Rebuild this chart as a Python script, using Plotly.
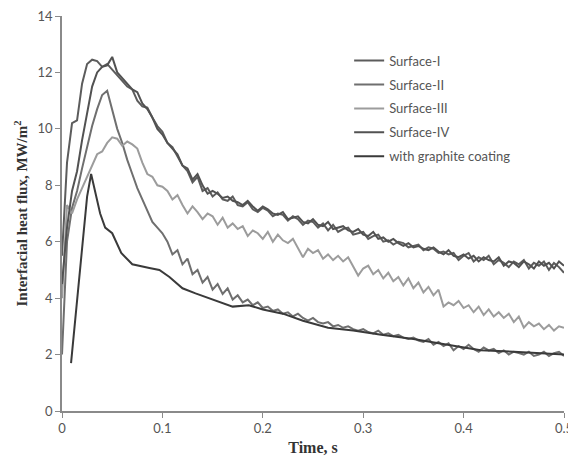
import plotly.graph_objects as go

# ---------------------------------------------------------------
# Data (time in s, flux in MW/m^2)
# ---------------------------------------------------------------
time_s = [
    0.000, 0.005, 0.010, 0.015, 0.020, 0.025, 0.030, 0.035, 0.040, 0.045,
    0.050, 0.055, 0.060, 0.065, 0.070, 0.075, 0.080, 0.085, 0.090, 0.095,
    0.100, 0.105, 0.110, 0.115, 0.120, 0.125, 0.130, 0.135, 0.140, 0.145,
    0.150, 0.155, 0.160, 0.165, 0.170, 0.175, 0.180, 0.185, 0.190, 0.195,
    0.200, 0.205, 0.210, 0.215, 0.220, 0.225, 0.230, 0.235, 0.240, 0.245,
    0.250, 0.255, 0.260, 0.265, 0.270, 0.275, 0.280, 0.285, 0.290, 0.295,
    0.300, 0.305, 0.310, 0.315, 0.320, 0.325, 0.330, 0.335, 0.340, 0.345,
    0.350, 0.355, 0.360, 0.365, 0.370, 0.375, 0.380, 0.385, 0.390, 0.395,
    0.400, 0.405, 0.410, 0.415, 0.420, 0.425, 0.430, 0.435, 0.440, 0.445,
    0.450, 0.455, 0.460, 0.465, 0.470, 0.475, 0.480, 0.485, 0.490, 0.495,
    0.500,
]

surface_1 = [
    5.5, 8.8, 10.2, 10.3, 11.6, 12.3, 12.45, 12.4, 12.2, 12.3,
    12.1, 11.9, 11.7, 11.5, 11.4, 11.0, 10.8, 10.75, 10.4, 10.1,
    9.9, 9.5, 9.35, 9.0, 8.7, 8.5, 8.1, 8.3, 7.8, 7.9,
    7.6, 7.75, 7.5, 7.45, 7.6, 7.3, 7.25, 7.4, 7.15, 7.05,
    7.2, 7.1, 6.9, 7.0, 6.95, 6.75, 6.9, 6.8, 6.6, 6.75,
    6.7, 6.5, 6.65, 6.4, 6.6, 6.35, 6.45, 6.5, 6.25, 6.3,
    6.35, 6.1, 6.2, 6.25, 6.0, 6.05, 5.9, 6.0, 5.95, 5.8,
    5.85, 5.9, 5.7, 5.8, 5.75, 5.6, 5.65, 5.55, 5.6, 5.35,
    5.5, 5.6, 5.3, 5.45, 5.35, 5.5, 5.2, 5.35, 5.25, 5.1,
    5.3, 5.2, 5.35, 5.05, 5.25, 5.15, 5.3, 5.0, 5.25, 5.1,
    4.9,
]

surface_2 = [
    2.0, 6.0, 7.2, 7.8, 8.6, 9.4, 10.1, 10.7, 11.2, 11.35,
    10.7, 10.0, 9.5, 8.9, 8.4, 7.9, 7.5, 7.1, 6.7, 6.5,
    6.3, 6.0, 5.55, 5.7, 5.2, 5.4, 4.85, 5.0, 4.55, 4.75,
    4.3, 4.5, 4.15, 4.35, 3.95, 4.1, 3.85, 3.95, 3.75, 3.85,
    3.65, 3.7, 3.55, 3.6, 3.45, 3.5, 3.35, 3.45, 3.3, 3.2,
    3.3, 3.15, 3.1, 3.15, 3.0, 3.05, 2.95, 3.0, 2.9, 2.85,
    2.9, 2.8, 2.75, 2.85, 2.7, 2.75, 2.65, 2.7, 2.6, 2.55,
    2.6, 2.5, 2.45, 2.55, 2.35, 2.45, 2.3, 2.4, 2.15, 2.3,
    2.2, 2.35, 2.2, 2.1, 2.25, 2.15, 2.2, 2.05, 2.15, 2.0,
    2.1, 2.05, 2.0, 2.1, 1.95, 2.0, 2.1, 1.95, 2.05, 2.1,
    1.95,
]

surface_3 = [
    4.0, 7.3, 7.0, 7.5, 7.9, 8.3, 8.7, 9.1, 9.2, 9.5,
    9.7, 9.65, 9.4, 9.55, 9.45, 9.3, 8.8, 8.4, 8.3, 8.0,
    7.95, 7.8, 7.5, 7.65, 7.3, 7.0, 7.25, 7.05, 6.8, 7.0,
    6.9, 6.6, 6.85, 6.5, 6.65, 6.45, 6.55, 6.2, 6.4, 6.3,
    6.1, 6.35, 6.0, 6.25, 6.05, 5.95, 6.1, 5.8, 5.45, 5.75,
    5.6, 5.7, 5.4, 5.55, 5.35, 5.5, 5.3, 5.45, 5.1, 4.8,
    5.05, 5.15, 4.85, 5.0, 4.7, 4.9, 4.6, 4.75, 4.45, 4.7,
    4.35, 4.55, 4.2, 4.4, 4.1, 4.3, 3.7, 3.85, 3.75, 3.9,
    3.65, 3.75, 3.5, 3.7, 3.4, 3.6, 3.35, 3.5, 3.3, 3.45,
    3.15, 3.35, 2.95, 3.15, 3.0, 3.1, 2.9, 3.05, 2.85, 3.0,
    2.95,
]

surface_4 = [
    4.5, 6.5, 7.8, 8.5, 9.6, 10.6, 11.5, 12.0, 12.2, 12.25,
    12.55, 12.0, 11.8, 11.6, 11.4, 11.3, 10.9, 10.7, 10.4, 10.0,
    9.8, 9.5, 9.3, 9.1, 8.7, 8.6, 8.2, 8.4, 8.0, 7.7,
    7.8, 7.7, 7.55, 7.6, 7.45, 7.4, 7.3, 7.45, 7.25, 7.1,
    7.25, 7.15, 7.0, 6.95, 7.05, 6.8, 6.85, 6.9, 6.7, 6.65,
    6.8, 6.6, 6.55, 6.7, 6.45, 6.5, 6.55, 6.4, 6.35, 6.45,
    6.25, 6.2, 6.35, 6.1, 6.15, 6.0, 6.1, 5.95, 5.85, 5.95,
    5.8, 5.85, 5.75, 5.7, 5.8, 5.65, 5.55, 5.7, 5.5, 5.45,
    5.55, 5.4, 5.5, 5.3, 5.45, 5.35, 5.3, 5.45, 5.15, 5.3,
    5.25, 5.1, 5.3, 5.2, 5.05, 5.3, 5.15, 5.25, 5.05, 5.3,
    5.15,
]

graphite_time = [
    0.009, 0.018, 0.025, 0.029, 0.033, 0.038, 0.043, 0.050, 0.059, 0.070,
    0.087, 0.097, 0.107, 0.120, 0.133, 0.153, 0.170, 0.186, 0.200, 0.220,
    0.240, 0.265, 0.290, 0.318, 0.350, 0.384, 0.417, 0.450, 0.480, 0.500,
]
graphite = [
    1.7, 5.1, 7.6, 8.4, 7.8, 7.0, 6.5, 6.3, 5.6, 5.2,
    5.07, 5.0, 4.75, 4.35, 4.17, 3.93, 3.7, 3.75, 3.6, 3.45,
    3.2, 2.95, 2.85, 2.7, 2.55, 2.35, 2.15, 2.1, 2.05, 2.0,
]

series = [
    ("Surface-I", time_s, surface_1, "#5c5c5c"),
    ("Surface-II", time_s, surface_2, "#6f6f6f"),
    ("Surface-III", time_s, surface_3, "#9c9c9c"),
    ("Surface-IV", time_s, surface_4, "#525252"),
    ("with graphite coating", graphite_time, graphite, "#3a3a3a"),
]

fig = go.Figure()
for i, (name, xs, ys, color) in enumerate(series):
    fig.add_trace(go.Scatter(
        x=xs, y=ys, mode="lines", name=name,
        legendgroup=f"g{i}",
        line=dict(color=color, width=2),
    ))

axis_common = dict(
    showgrid=False, zeroline=False, showline=True,
    linecolor="#8a8a8a", linewidth=1.5,
    ticks="outside", ticklen=5, tickcolor="#8a8a8a",
    tickfont=dict(family="Lato", size=13, color="#555555"),
    ticklabeloverflow="allow",
)

# the page has an 8px body margin, so the figure is 8px smaller than the window
fig.update_layout(
    width=568, height=454,
    margin=dict(l=54, r=12, t=8, b=51),
    paper_bgcolor="white", plot_bgcolor="white",
    xaxis=dict(
        range=[0, 0.5], tickvals=[0, 0.1, 0.2, 0.3, 0.4, 0.5],
        ticktext=["0", "0.1", "0.2", "0.3", "0.4", "0.5"],
        automargin="height",
        title=dict(text="<b>Time, s</b>", standoff=6,
                   font=dict(family="Liberation Serif", size=16, color="#333333")),
        **axis_common,
    ),
    yaxis=dict(
        range=[0, 14], tickvals=[0, 2, 4, 6, 8, 10, 12, 14],
        automargin="width",
        title=dict(text="<b>Interfacial heat flux, MW/m<sup>2</sup></b>", standoff=6,
                   font=dict(family="Liberation Serif", size=15, color="#333333")),
        **axis_common,
    ),
    legend=dict(
        x=0.572, y=0.925, xanchor="left", yanchor="top",
        bgcolor="rgba(0,0,0,0)", borderwidth=0,
        font=dict(family="Lato", size=13, color="#555555"),
        tracegroupgap=4, itemwidth=30,
    ),
)

fig.write_html("out.html")
